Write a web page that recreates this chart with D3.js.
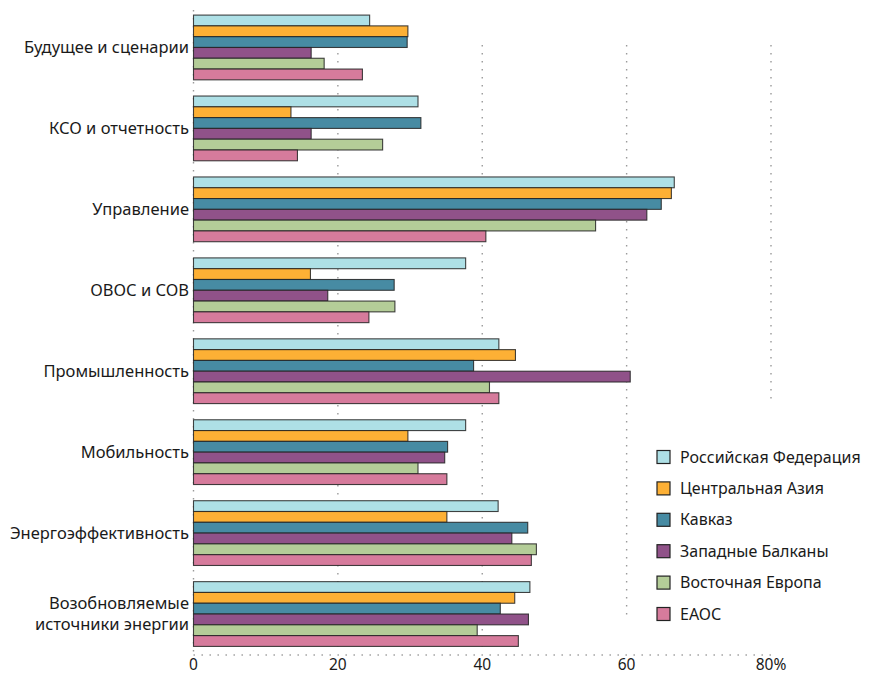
<!DOCTYPE html>
<html><head><meta charset="utf-8">
<script src="https://cdn.jsdelivr.net/npm/d3@7"></script>
<style>body{margin:0;background:#fff;} text{font-family:"Noto Sans","Open Sans",sans-serif;fill:#1a1a1a;}</style>
</head><body>
<svg id="chart" width="870" height="675"></svg>
<script>
const categories = ["Будущее и сценарии","КСО и отчетность","Управление","ОВОС и СОВ","Промышленность","Мобильность","Энергоэффективность","Возобновляемые источники энергии"];
const categoryLines = [["Будущее и сценарии"],["КСО и отчетность"],["Управление"],["ОВОС и СОВ"],["Промышленность"],["Мобильность"],["Энергоэффективность"],["Возобновляемые","источники энергии"]];
const series = ["Российская Федерация","Центральная Азия","Кавказ","Западные Балканы","Восточная Европа","ЕАОС"];
const colors = ["#aee0e6","#fdb035","#478ba3","#905289","#b4cd98","#d67b9c"];
const rf   = [24.4, 31.1, 66.6, 37.7, 42.3, 37.7, 42.2, 46.6];
const ca   = [29.7, 13.5, 66.2, 16.2, 44.6, 29.7, 35.1, 44.5];
const kav  = [29.6, 31.5, 64.8, 27.8, 38.8, 35.2, 46.3, 42.5];
const wb   = [16.3, 16.3, 62.8, 18.6, 60.5, 34.8, 44.1, 46.4];
const ee   = [18.1, 26.2, 55.7, 27.9, 41.0, 31.1, 47.5, 39.3];
const eaoc = [23.4, 14.4, 40.5, 24.3, 42.3, 35.1, 46.8, 45.0];
const values = [rf, ca, kav, wb, ee, eaoc];
const ticks = [0, 20, 40, 60, 80];
const tickLabels = ["0","20","40","60","80%"];

const svg = d3.select("#chart");
const x = d3.scaleLinear().domain([0, 80]).range([193.5, 771]);
const y = d3.scaleBand().domain(categories).range([7, 654.5]).paddingInner(0.2).paddingOuter(0.1);
const ys = d3.scaleBand().domain(series).range([0, y.bandwidth()]);

// gridlines (dotted)
const gridBottoms = [652, 652, 652, 620, 405];
const gridTops = [10, 45, 45, 45, 45];
svg.append("g").selectAll("line").data(ticks).join("line")
  .attr("x1", d => x(d)).attr("x2", d => x(d))
  .attr("y1", (d,i) => gridTops[i]).attr("y2", (d,i) => gridBottoms[i])
  .attr("stroke", "#9a9a9a").attr("stroke-width", 1.4)
  .attr("stroke-dasharray", "1.4,6.6");

// bottom dotted axis line
svg.append("line").attr("x1", x(0)).attr("x2", x(80)).attr("y1", 655).attr("y2", 655)
  .attr("stroke", "#9a9a9a").attr("stroke-width", 1.4).attr("stroke-dasharray", "1.4,6.6");

// bars
const g = svg.append("g");
categories.forEach((c, ci) => {
  series.forEach((s, si) => {
    g.append("rect")
      .attr("x", x(0))
      .attr("y", y(c) + ys(s))
      .attr("width", x(values[si][ci]) - x(0))
      .attr("height", ys.bandwidth())
      .attr("fill", colors[si])
      .attr("stroke", "#222").attr("stroke-opacity", 0.85).attr("stroke-width", 1.1);
  });
});

// category labels
categories.forEach((c, ci) => {
  const lines = categoryLines[ci];
  const cy = y(c) + y.bandwidth() / 2;
  const lh = 21;
  lines.forEach((ln, li) => {
    svg.append("text")
      .attr("x", 189).attr("y", cy + (li - (lines.length - 1) / 2) * lh)
      .attr("dy", "0.35em").attr("text-anchor", "end")
      .attr("font-size", 16.5).text(ln);
  });
});

// x tick labels
svg.append("g").selectAll("text").data(ticks).join("text")
  .attr("x", d => x(d)).attr("y", 670)
  .attr("text-anchor", "middle").attr("font-size", 15.5)
  .text((d,i) => tickLabels[i]);

// legend
const ly = d3.scalePoint().domain(series).range([457, 614]);
const lg = svg.append("g");
series.forEach((s, si) => {
  lg.append("rect").attr("x", 657).attr("y", ly(s) - 6.5).attr("width", 13).attr("height", 13)
    .attr("fill", colors[si]).attr("stroke", "#222").attr("stroke-width", 1.2);
  lg.append("text").attr("x", 680).attr("y", ly(s)).attr("dy", "0.35em")
    .attr("font-size", 16).text(s);
});
</script>
</body></html>
